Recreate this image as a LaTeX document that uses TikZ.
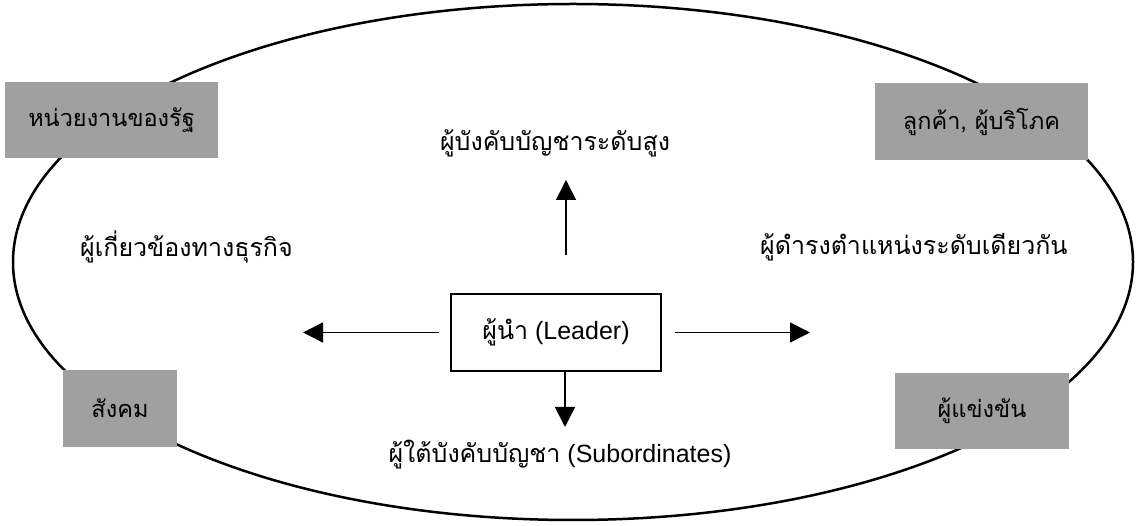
\documentclass[tikz,border=0pt]{standalone}
\usepackage{fontspec}
\setmainfont{Liberation Sans}
\newfontfamily\thai[Script=Thai]{Loma}
\usetikzlibrary{arrows.meta,shapes.geometric}
\definecolor{boxgray}{RGB}{160,160,160}
\begin{document}
\begin{tikzpicture}[x=1pt,y=-1pt,
  every node/.style={font=\fontsize{25}{30}\selectfont},
  graybox/.style={fill=boxgray, inner sep=0pt, font=\fontsize{23.5}{28}\selectfont},
  leaderbox/.style={draw, line width=1.5pt, inner sep=0pt, minimum width=210pt, minimum height=77pt},
  arr/.style={line width=1.6pt, -{Triangle[length=20pt,width=20pt]}},
  lbl/.style={inner sep=0pt}]
\useasboundingbox (0,0) rectangle (1136,526);
\node[draw, ellipse, line width=2.5pt, minimum width=1120pt, minimum height=516pt, inner sep=0pt] (ring) at (573,262) {};
% grey corner boxes
\node[graybox, minimum width=213pt, minimum height=76pt] (gov) at (111.5,120) {\thai หน่วยงานของรัฐ};
\node[graybox, minimum width=213pt, minimum height=77pt] (cust) at (981.5,121.5) {\thai ลูกค้า, ผู้บริโภค};
\node[graybox, minimum width=114pt, minimum height=77pt] (soc) at (120,408.5) {\thai สังคม};
\node[graybox, minimum width=174pt, minimum height=76pt] (comp) at (982,411) {\thai ผู้แข่งขัน};
% labels
\node[lbl] (sup) at (555,143) {\thai ผู้บังคับบัญชาระดับสูง};
\node[lbl, anchor=west] (biz) at (80,247) {\thai ผู้เกี่ยวข้องทางธุรกิจ};
\node[lbl, anchor=west] (peer) at (760,247) {\thai ผู้ดำรงตำแหน่งระดับเดียวกัน};
\node[lbl] (sub) at (560,455) {{\thai ผู้ใต้บังคับบัญชา} (Subordinates)};
% leader
\node[leaderbox] (leader) at (556,332.5) {{\thai ผู้นำ} (Leader)};
% arrows
\coordinate (upstart) at (566,255);
\coordinate (uptip) at (566,180);
\coordinate (ltip) at (303,332.5);
\coordinate (rtip) at (810,332.5);
\coordinate (dtip) at (565,427);
\path (leader.west) ++(-11,0) coordinate (lstart);
\path (leader.east) ++(13,0) coordinate (rstart);
\draw[arr] (upstart) -- (uptip);
\draw[arr] (lstart) -- (ltip);
\draw[arr] (rstart) -- (rtip);
\draw[arr] (leader.south -| dtip) -- (dtip);
\end{tikzpicture}
\end{document}
